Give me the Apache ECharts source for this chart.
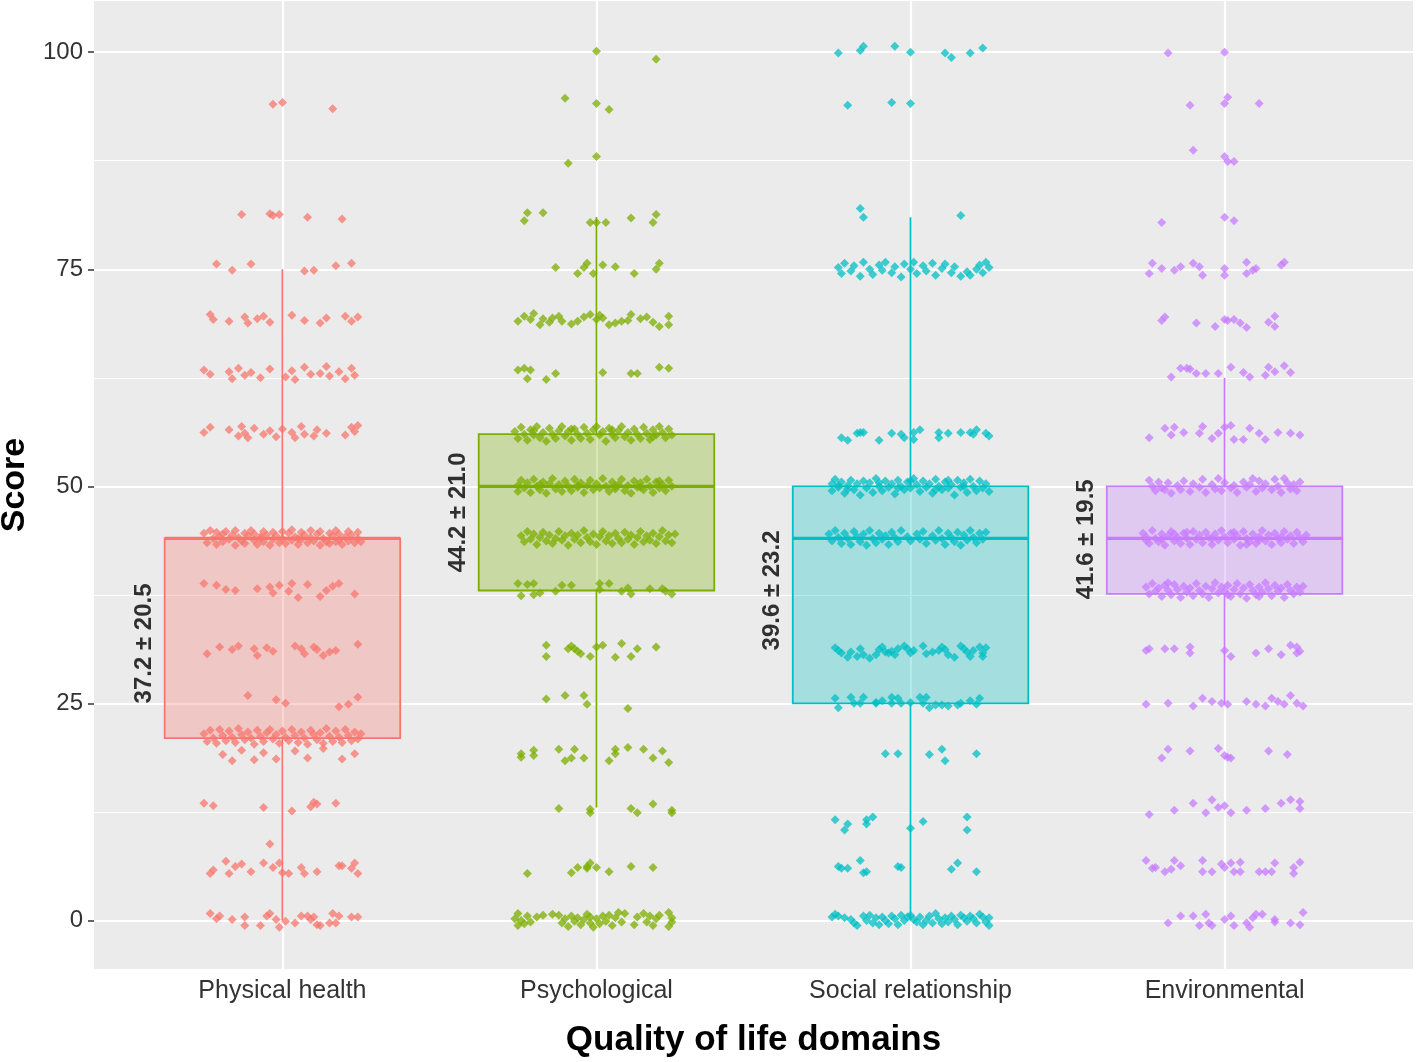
<!DOCTYPE html>
<html><head><meta charset="utf-8">
<script src="https://cdn.jsdelivr.net/npm/echarts@6/dist/echarts.min.js"></script>
<style>html,body{margin:0;padding:0;background:#fff}#c{width:1416px;height:1062px}</style>
</head><body><div id="c"></div>
<script>
const categories = ['Physical health', 'Psychological', 'Social relationship', 'Environmental'];
const boxLow = [0, 13, 0, 25];
const boxQ1 = [21, 38, 25, 37.6];
const boxMedian = [44, 50, 44, 44];
const boxQ3 = [44, 56, 50, 50];
const boxHigh = [75, 81, 81, 62.5];
const meanSdLabels = ['37.2 \u00b1 20.5', '44.2 \u00b1 21.0', '39.6 \u00b1 23.2', '41.6 \u00b1 19.5'];
const yTickValues = [0, 25, 50, 75, 100];
const yMinorValues = [12.5, 37.5, 62.5, 87.5];

// jittered points: [x offset from category centre, score]
const physical = [
[-0.03,94.0],[0.00,94.2],[0.16,93.5],
[-0.13,81.3],[-0.04,81.4],[-0.03,81.2],[-0.01,81.3],[0.08,81.0],[0.19,80.8],
[-0.21,75.6],[-0.16,74.9],[-0.10,75.6],[0.07,74.8],[0.10,74.9],[0.17,75.4],[0.22,75.7],
[-0.23,69.8],[-0.22,69.2],[-0.17,69.0],[-0.12,69.5],[-0.11,68.8],[-0.08,69.3],[-0.06,69.6],[-0.04,68.9],[0.03,69.7],[0.07,69.1],[0.12,68.8],[0.14,69.4],[0.20,69.6],[0.22,69.0],[0.24,69.5],
[-0.25,63.4],[-0.23,62.9],[-0.17,63.2],[-0.16,62.4],[-0.14,63.6],[-0.12,62.8],[-0.10,63.1],[-0.07,62.5],[-0.04,63.5],[0.01,62.6],[0.03,63.3],[0.04,62.3],[0.07,63.7],[0.09,62.9],[0.12,63.0],[0.14,63.8],[0.15,62.7],[0.18,63.2],[0.20,62.4],[0.22,63.6],[0.23,62.8],
[-0.25,56.2],[-0.23,56.8],[-0.17,56.5],[-0.14,55.8],[-0.13,56.9],[-0.12,56.1],[-0.11,55.6],[-0.09,56.7],[-0.06,56.0],[-0.04,56.4],[-0.02,55.7],[0.00,56.6],[0.03,56.2],[0.04,55.6],[0.06,56.9],[0.07,56.0],[0.10,55.8],[0.11,56.5],[0.14,56.1],[0.20,55.9],[0.22,56.8],[0.23,56.3],[0.24,57.0],
[-0.25,44.6],[-0.24,43.5],[-0.23,44.9],[-0.22,44.0],[-0.21,43.3],[-0.21,44.7],[-0.20,44.2],[-0.19,43.6],[-0.18,44.8],[-0.17,43.9],[-0.16,44.4],[-0.15,43.2],[-0.15,44.9],[-0.14,44.1],[-0.13,43.7],[-0.12,44.6],[-0.12,43.4],[-0.11,44.3],[-0.10,44.9],[-0.09,43.8],[-0.09,44.5],[-0.08,43.3],[-0.07,44.2],[-0.06,44.8],[-0.06,43.6],[-0.05,44.4],[-0.04,43.2],[-0.03,44.7],[-0.03,43.9],[-0.02,44.3],[-0.01,43.5],[0.00,44.8],[0.00,44.0],[0.01,43.4],[0.02,44.6],[0.03,43.8],[0.03,45.0],[0.04,44.2],[0.05,43.3],[0.06,44.7],[0.06,43.9],[0.07,44.4],[0.08,43.5],[0.09,44.9],[0.09,44.1],[0.10,43.7],[0.11,44.5],[0.12,43.2],[0.12,44.8],[0.13,44.0],[0.14,43.6],[0.15,44.6],[0.15,43.4],[0.16,44.3],[0.17,44.9],[0.18,43.8],[0.18,44.5],[0.19,43.3],[0.20,44.2],[0.21,44.8],[0.21,43.7],[0.22,44.4],[0.23,43.5],[0.24,44.7],[0.24,44.0],[0.25,43.6],[-0.19,44.5],[-0.07,44.0],[0.05,44.0],[0.17,43.6],
[-0.25,38.8],[-0.21,38.6],[-0.18,38.1],[-0.15,38.0],[-0.08,38.2],[-0.04,38.4],[-0.03,37.7],[-0.01,38.6],[0.02,37.9],[0.03,38.8],[0.05,37.2],[0.08,38.7],[0.12,37.3],[0.14,38.0],[0.16,38.5],[0.18,38.8],[0.23,37.6],
[-0.24,30.7],[-0.20,31.5],[-0.16,31.2],[-0.14,31.6],[-0.09,31.3],[-0.08,30.5],[-0.05,31.4],[-0.03,31.0],[0.04,31.6],[0.06,31.3],[0.07,30.7],[0.10,31.5],[0.11,31.2],[0.13,30.5],[0.15,30.9],[0.17,31.1],[0.24,31.8],
[-0.11,25.9],[-0.02,25.4],[0.01,25.0],[0.18,24.6],[0.21,24.9],[0.24,25.7],
[-0.25,21.5],[-0.24,20.6],[-0.23,21.9],[-0.22,21.0],[-0.21,20.4],[-0.20,22.0],[-0.19,21.3],[-0.18,20.7],[-0.17,21.8],[-0.16,21.1],[-0.15,20.5],[-0.14,22.1],[-0.13,21.4],[-0.12,20.8],[-0.11,21.7],[-0.10,21.0],[-0.09,20.3],[-0.08,21.9],[-0.07,21.2],[-0.06,20.6],[-0.05,21.6],[-0.04,22.0],[-0.03,20.9],[-0.02,21.4],[-0.01,20.4],[0.00,21.8],[0.01,21.1],[0.02,20.7],[0.03,22.0],[0.04,21.3],[0.05,20.5],[0.06,21.7],[0.07,21.0],[0.08,20.3],[0.09,21.9],[0.10,21.4],[0.11,20.8],[0.12,21.6],[0.13,20.4],[0.14,22.1],[0.15,21.2],[0.16,20.6],[0.17,21.8],[0.18,21.1],[0.19,20.5],[0.20,22.0],[0.21,21.3],[0.22,20.7],[0.23,21.7],[0.24,20.9],[0.25,21.5],
[-0.19,19.1],[-0.16,18.4],[-0.13,19.6],[-0.09,18.5],[-0.06,19.3],[-0.02,18.6],[0.04,19.5],[0.08,18.7],[0.13,19.8],[0.19,18.6],[0.23,19.2],
[-0.25,13.5],[-0.22,13.2],[-0.06,13.0],[0.03,12.6],[0.09,13.1],[0.10,13.6],[0.11,13.4],[0.17,13.5],
[-0.23,5.4],[-0.22,5.8],[-0.18,6.8],[-0.17,5.4],[-0.15,6.2],[-0.13,6.5],[-0.10,5.6],[-0.06,6.6],[-0.04,8.8],[-0.03,6.1],[-0.01,6.6],[0.00,5.5],[0.02,5.4],[0.06,6.1],[0.07,5.4],[0.11,5.6],[0.18,6.3],[0.19,6.3],[0.22,6.0],[0.23,6.6],[0.24,5.4],
[-0.23,0.8],[-0.21,0.2],[-0.20,0.5],[-0.16,0.1],[-0.12,0.4],[-0.12,-0.6],[-0.07,-0.6],[-0.05,0.5],[-0.04,0.8],[-0.02,0.1],[-0.01,-0.8],[0.01,-0.1],[0.04,-0.3],[0.06,0.5],[0.08,0.5],[0.09,0.1],[0.10,0.4],[0.11,-0.5],[0.12,-0.6],[0.15,-0.3],[0.16,0.8],[0.17,-0.3],[0.18,0.5],[0.22,0.4],[0.24,0.4]
];

const psychological = [
[0.00,100.1],[0.19,99.2],
[-0.10,94.7],[0.00,94.1],[0.04,93.4],
[0.00,88.0],[-0.09,87.2],
[-0.22,81.5],[-0.23,80.6],[-0.17,81.5],[-0.02,80.4],[0.00,80.4],[0.03,80.4],[0.11,80.9],[0.19,81.3],[0.18,80.4],
[-0.13,75.2],[-0.03,75.7],[-0.04,75.2],[-0.06,74.5],[-0.01,74.5],[0.02,75.5],[0.06,75.3],[0.12,74.5],[0.20,75.7],[0.19,75.0],
[-0.25,69.0],[-0.23,69.6],[-0.20,69.9],[-0.18,68.6],[-0.17,69.3],[-0.15,68.9],[-0.14,69.4],[-0.11,69.0],[-0.06,69.0],[-0.04,69.5],[-0.02,69.8],[0.00,69.2],[0.02,69.4],[0.04,68.6],[0.06,68.8],[0.08,69.0],[0.11,69.8],[0.16,69.5],[0.18,68.9],[0.20,68.4],[0.23,69.6],[0.23,68.6],[-0.21,69.2],[-0.12,69.6],[-0.08,68.7],[0.01,69.7],[0.10,69.1],[0.14,69.3],
[-0.25,63.4],[-0.23,63.6],[-0.21,63.4],[-0.22,62.4],[-0.16,62.3],[-0.13,63.0],[0.02,63.1],[0.11,63.0],[0.13,63.0],[0.20,63.7],[0.23,63.6],
[-0.26,56.3],[-0.25,55.5],[-0.24,56.8],[-0.23,56.0],[-0.22,55.3],[-0.21,56.5],[-0.20,55.9],[-0.19,56.9],[-0.18,55.6],[-0.17,56.2],[-0.16,55.2],[-0.15,56.7],[-0.14,56.0],[-0.13,55.5],[-0.12,56.4],[-0.11,56.9],[-0.10,55.8],[-0.09,56.3],[-0.08,55.3],[-0.07,56.6],[-0.06,56.0],[-0.05,55.5],[-0.04,56.8],[-0.03,56.1],[-0.02,55.4],[-0.01,56.5],[0.00,56.9],[0.01,55.9],[0.02,56.3],[0.03,55.2],[0.04,56.7],[0.05,56.0],[0.06,55.6],[0.07,56.4],[0.08,56.9],[0.09,55.7],[0.10,56.2],[0.11,55.3],[0.12,56.6],[0.13,56.0],[0.14,55.5],[0.15,56.8],[0.16,56.1],[0.17,55.4],[0.18,56.5],[0.19,55.9],[0.20,56.9],[0.21,56.2],[0.22,55.6],[0.23,56.6],[0.24,55.9],[-0.20,56.4],[-0.08,56.6],[0.05,56.5],[0.18,55.7],
[-0.25,50.1],[-0.25,49.4],[-0.24,50.7],[-0.23,49.8],[-0.22,50.4],[-0.21,49.3],[-0.20,50.8],[-0.19,50.0],[-0.18,49.6],[-0.17,50.5],[-0.16,49.2],[-0.15,50.3],[-0.14,50.9],[-0.13,49.7],[-0.12,50.2],[-0.11,49.4],[-0.10,50.6],[-0.09,50.0],[-0.08,49.5],[-0.07,50.8],[-0.06,49.9],[-0.05,50.4],[-0.04,49.3],[-0.03,50.1],[-0.02,50.7],[-0.01,49.6],[0.00,50.3],[0.01,49.8],[0.02,50.9],[0.03,50.0],[0.04,49.4],[0.05,50.5],[0.06,49.7],[0.07,50.2],[0.08,50.8],[0.09,49.5],[0.10,50.1],[0.11,49.2],[0.12,50.6],[0.13,49.9],[0.14,50.4],[0.15,49.6],[0.16,50.8],[0.17,50.0],[0.18,49.3],[0.19,50.5],[0.20,49.8],[0.21,50.2],[0.22,49.5],[0.23,50.7],[0.24,50.0],[-0.18,50.2],[-0.06,50.1],[0.06,50.0],[0.14,49.9],[0.20,50.6],
[-0.24,44.3],[-0.23,43.6],[-0.22,44.8],[-0.21,43.9],[-0.20,44.5],[-0.19,43.3],[-0.18,44.1],[-0.17,44.7],[-0.16,43.7],[-0.15,44.4],[-0.14,43.4],[-0.13,44.0],[-0.12,44.8],[-0.11,43.8],[-0.10,44.3],[-0.09,43.2],[-0.08,44.6],[-0.07,43.9],[-0.06,44.4],[-0.05,43.5],[-0.04,44.9],[-0.03,44.1],[-0.02,43.6],[-0.01,44.5],[0.00,43.3],[0.01,44.2],[0.02,44.8],[0.03,43.7],[0.04,44.3],[0.05,43.4],[0.06,44.6],[0.07,44.0],[0.08,43.5],[0.09,44.7],[0.10,43.9],[0.11,44.4],[0.12,43.3],[0.13,44.1],[0.14,44.8],[0.15,43.6],[0.16,44.3],[0.17,43.8],[0.18,44.6],[0.19,43.4],[0.20,44.2],[0.21,44.9],[0.22,43.7],[0.23,44.4],[0.24,43.5],[0.25,44.5],
[-0.25,38.8],[-0.24,37.4],[-0.22,38.7],[-0.20,38.8],[-0.20,37.5],[-0.18,37.7],[-0.13,37.9],[-0.11,38.6],[-0.08,38.6],[0.01,38.8],[0.01,38.1],[0.04,38.8],[0.08,37.9],[0.10,38.3],[0.11,37.6],[0.17,38.2],[0.21,38.2],[0.22,37.9],[0.24,37.6],
[-0.16,31.7],[-0.16,30.4],[-0.09,31.3],[-0.08,31.6],[-0.07,31.3],[-0.06,31.0],[-0.05,30.7],[-0.02,30.4],[0.00,31.5],[0.02,31.7],[0.08,31.9],[0.06,30.3],[0.11,30.4],[0.13,31.3],[0.19,31.5],
[-0.16,25.5],[-0.10,25.9],[-0.04,25.9],[-0.03,24.9],[0.10,24.4],
[-0.24,19.2],[-0.24,18.8],[-0.20,19.6],[-0.20,19.0],[-0.12,19.7],[-0.07,19.7],[-0.10,18.4],[-0.08,18.7],[-0.04,18.7],[0.04,18.4],[0.06,19.7],[0.06,19.2],[0.10,19.9],[0.15,19.7],[0.18,18.7],[0.21,19.5],[0.23,18.2],
[-0.12,12.9],[-0.02,12.4],[-0.02,12.8],[0.11,12.9],[0.13,12.4],[0.18,13.4],[0.24,12.7],[0.24,12.4],
[-0.22,5.4],[-0.08,5.5],[-0.06,6.1],[-0.03,6.2],[-0.02,6.6],[-0.03,6.0],[0.00,6.1],[0.04,5.6],[0.11,6.2],[0.18,6.1],
[-0.26,0.2],[-0.25,-0.6],[-0.25,0.8],[-0.24,0.0],[-0.23,-0.4],[-0.22,0.5],[-0.21,-0.2],[-0.19,0.4],[-0.17,0.6],[-0.14,0.7],[-0.12,0.6],[-0.11,-0.3],[-0.10,0.2],[-0.09,-0.7],[-0.08,0.5],[-0.07,-0.1],[-0.06,0.3],[-0.05,-0.5],[-0.04,0.1],[-0.03,0.7],[-0.02,-0.3],[-0.02,0.4],[-0.01,-0.8],[0.00,0.2],[0.01,-0.4],[0.02,0.5],[0.03,-0.1],[0.04,0.6],[0.05,-0.6],[0.06,0.3],[0.07,0.9],[0.08,-0.2],[0.09,0.8],[0.12,-0.5],[0.13,0.4],[0.15,0.8],[0.16,-0.2],[0.17,0.5],[0.18,-0.6],[0.19,0.2],[0.20,0.6],[0.23,0.9],[0.23,-0.7],[0.24,0.3],[0.24,-0.2]
];

const social = [
[-0.23,99.9],[-0.16,100.2],[-0.15,100.7],[-0.05,100.7],[0.00,100.0],[0.11,99.9],[0.13,99.4],[0.19,99.9],[0.23,100.5],
[-0.20,93.9],[-0.06,94.2],[0.00,94.1],
[-0.16,82.0],[-0.15,81.0],[0.16,81.2],
[-0.23,75.2],[-0.22,74.5],[-0.21,75.7],[-0.19,74.8],[-0.18,75.4],[-0.16,74.2],[-0.15,75.8],[-0.13,75.0],[-0.12,74.4],[-0.10,75.5],[-0.09,74.9],[-0.08,75.8],[-0.06,74.6],[-0.05,75.3],[-0.03,74.1],[-0.02,75.6],[0.00,75.0],[0.01,75.8],[0.02,74.5],[0.04,75.4],[0.05,74.8],[0.07,75.7],[0.08,74.3],[0.10,75.1],[0.11,75.6],[0.13,74.6],[0.14,75.3],[0.16,74.2],[0.18,74.7],[0.19,74.3],[0.21,75.0],[0.22,75.5],[0.23,74.6],[0.24,75.8],[0.25,75.2],
[-0.22,55.6],[-0.20,55.3],[-0.17,56.1],[-0.16,56.2],[-0.15,56.2],[-0.10,55.3],[-0.06,56.1],[-0.03,56.0],[-0.02,55.6],[0.01,56.2],[0.03,56.5],[0.09,56.2],[0.09,55.6],[0.12,56.1],[0.16,56.2],[0.19,56.2],[0.20,56.0],[0.21,56.5],[0.24,56.1],[0.25,55.8],[0.01,55.4],
[-0.25,50.3],[-0.25,49.5],[-0.24,50.8],[-0.23,49.9],[-0.22,50.5],[-0.21,49.2],[-0.20,50.1],[-0.19,50.7],[-0.18,49.6],[-0.17,50.3],[-0.16,49.0],[-0.15,50.6],[-0.14,49.8],[-0.13,50.4],[-0.12,49.3],[-0.11,50.9],[-0.10,50.0],[-0.09,49.5],[-0.08,50.6],[-0.07,49.9],[-0.06,50.3],[-0.05,49.1],[-0.04,50.7],[-0.03,50.0],[-0.02,49.6],[-0.01,50.5],[0.00,49.8],[0.01,50.9],[0.02,50.2],[0.03,49.4],[0.04,50.6],[0.05,49.9],[0.06,50.3],[0.07,49.2],[0.08,50.8],[0.09,50.0],[0.10,49.6],[0.11,50.5],[0.12,49.8],[0.13,50.2],[0.14,49.0],[0.15,50.7],[0.16,49.9],[0.17,50.4],[0.18,49.3],[0.19,50.8],[0.20,50.0],[0.21,49.5],[0.22,50.6],[0.23,49.8],[0.24,50.3],[0.25,49.4],[-0.20,49.7],[-0.10,50.4],[0.00,50.6],[0.08,49.6],[0.17,50.0],[-0.23,50.1],[0.12,50.7],[-0.04,49.8],
[-0.26,44.5],[-0.25,43.7],[-0.24,44.9],[-0.23,44.1],[-0.22,43.4],[-0.21,44.6],[-0.20,44.0],[-0.19,43.3],[-0.18,44.8],[-0.17,44.2],[-0.16,43.6],[-0.15,44.5],[-0.14,43.2],[-0.13,44.9],[-0.12,44.0],[-0.11,43.5],[-0.10,44.6],[-0.09,43.9],[-0.08,44.3],[-0.07,43.3],[-0.06,44.7],[-0.05,44.1],[-0.04,43.6],[-0.03,44.9],[-0.01,44.2],[0.00,43.7],[0.02,44.5],[0.03,43.9],[0.04,44.8],[0.05,43.4],[0.07,44.3],[0.08,43.8],[0.09,44.9],[0.10,44.0],[0.11,43.3],[0.12,44.6],[0.13,44.1],[0.14,43.6],[0.15,44.7],[0.16,43.2],[0.17,44.4],[0.18,43.8],[0.19,44.9],[0.20,44.1],[0.21,43.5],[0.22,44.6],[0.23,43.9],[0.24,44.7],
[-0.24,31.4],[-0.23,31.1],[-0.22,30.8],[-0.20,30.3],[-0.19,30.9],[-0.17,30.4],[-0.16,31.3],[-0.15,30.6],[-0.13,30.2],[-0.11,30.6],[-0.10,31.2],[-0.09,31.5],[-0.08,30.9],[-0.07,30.8],[-0.06,31.0],[-0.05,30.6],[-0.04,31.3],[-0.02,31.6],[-0.01,31.3],[0.00,30.8],[0.01,31.1],[0.04,31.6],[0.05,30.7],[0.07,30.9],[0.09,31.1],[0.10,31.5],[0.11,31.2],[0.12,30.6],[0.14,30.3],[0.16,31.6],[0.17,31.3],[0.18,30.9],[0.19,30.4],[0.20,31.1],[0.22,31.5],[0.23,30.8],[0.24,31.4],[0.23,30.4],
[-0.24,25.6],[-0.23,24.5],[-0.19,25.7],[-0.18,25.0],[-0.15,25.7],[-0.16,25.0],[-0.11,25.1],[-0.11,25.0],[-0.09,25.3],[-0.06,25.7],[-0.06,25.0],[-0.04,25.6],[-0.03,25.0],[0.00,25.1],[0.03,25.7],[0.04,25.0],[0.05,25.7],[0.06,24.5],[0.08,24.8],[0.10,24.8],[0.12,24.7],[0.15,24.8],[0.16,25.0],[0.19,25.3],[0.21,24.9],[0.22,25.6],
[-0.08,19.2],[-0.04,19.2],[0.06,19.1],[0.10,19.7],[0.11,18.4],[0.21,19.2],
[-0.24,11.6],[-0.21,10.4],[-0.20,11.1],[-0.14,11.1],[-0.14,11.6],[-0.12,11.9],[0.00,10.6],[0.04,11.4],[0.18,11.9],[0.18,10.4],
[-0.23,6.2],[-0.22,6.0],[-0.20,6.0],[-0.16,6.9],[-0.15,5.5],[-0.14,5.6],[-0.04,6.2],[-0.03,6.1],[0.13,5.9],[0.15,6.6],[0.21,5.6],
[-0.25,0.4],[-0.24,0.7],[-0.23,0.5],[-0.21,0.3],[-0.19,0.1],[-0.18,-0.3],[-0.17,-0.6],[-0.15,0.5],[-0.14,0.0],[-0.13,0.6],[-0.12,-0.3],[-0.11,0.3],[-0.10,-0.5],[-0.09,0.4],[-0.08,0.0],[-0.07,-0.4],[-0.06,0.5],[-0.05,0.2],[-0.04,-0.5],[-0.03,0.6],[-0.02,0.0],[-0.01,0.4],[0.00,0.6],[0.01,0.1],[0.02,-0.2],[0.03,0.4],[0.04,-0.5],[0.05,0.0],[0.06,0.5],[0.07,-0.3],[0.08,0.8],[0.09,0.2],[0.10,-0.4],[0.11,0.3],[0.12,-0.2],[0.13,0.5],[0.14,0.1],[0.15,-0.5],[0.16,0.6],[0.17,0.3],[0.18,-0.1],[0.19,0.5],[0.20,0.2],[0.21,-0.3],[0.22,0.7],[0.23,0.4],[0.24,-0.2],[0.25,-0.6],[0.25,0.3]
];

const environmental = [
[-0.18,99.9],[0.00,100.0],
[-0.11,93.9],[0.00,94.1],[0.01,94.8],[0.11,94.1],
[-0.10,88.7],[0.00,88.0],[0.01,87.4],[0.03,87.4],
[-0.20,80.4],[0.00,81.0],[0.03,80.6],
[-0.23,75.7],[-0.24,74.5],[-0.20,75.1],[-0.16,74.9],[-0.14,75.3],[-0.10,75.7],[-0.08,75.3],[-0.07,74.3],[0.00,75.1],[0.00,74.3],[0.07,75.8],[0.09,74.9],[0.10,75.1],[0.18,75.5],[0.19,75.8],[0.07,74.5],
[-0.19,69.5],[-0.20,69.1],[-0.09,68.8],[-0.03,68.4],[0.00,69.2],[0.03,69.2],[0.05,68.8],[0.07,68.3],[0.14,68.9],[0.16,69.6],[0.16,68.4],[0.01,69.1],
[-0.17,62.6],[-0.14,63.6],[-0.11,63.5],[-0.09,63.0],[-0.06,63.0],[-0.02,63.0],[0.02,63.7],[0.06,63.1],[0.08,62.6],[0.13,62.8],[0.14,63.7],[0.16,63.2],[0.19,63.9],[0.21,63.1],[-0.12,63.6],
[-0.24,55.6],[-0.19,56.7],[-0.17,55.9],[-0.16,56.8],[-0.13,56.2],[-0.08,56.1],[-0.07,56.9],[-0.04,55.5],[-0.02,56.1],[0.00,56.8],[0.02,57.0],[0.03,55.4],[0.06,55.4],[0.08,56.7],[0.11,56.1],[0.13,55.4],[0.17,56.2],[0.21,56.1],[0.24,55.9],
[-0.24,50.7],[-0.23,50.0],[-0.22,49.5],[-0.21,50.5],[-0.20,49.8],[-0.18,50.4],[-0.17,49.2],[-0.15,50.1],[-0.14,49.6],[-0.13,50.6],[-0.11,49.4],[-0.10,50.3],[-0.08,49.9],[-0.07,50.8],[-0.06,49.3],[-0.04,50.2],[-0.03,49.7],[-0.02,50.9],[-0.01,49.5],[0.00,50.4],[0.02,49.8],[0.03,50.1],[0.04,49.3],[0.06,50.5],[0.07,49.9],[0.08,50.2],[0.10,49.4],[0.11,50.6],[0.12,49.8],[0.13,50.3],[0.15,49.6],[0.16,50.8],[0.17,50.0],[0.18,49.3],[0.19,50.9],[0.20,50.4],[0.21,49.7],[0.22,50.2],[0.23,49.5],[0.24,50.5],[-0.19,49.6],[0.09,50.9],
[-0.26,44.6],[-0.25,43.8],[-0.25,44.2],[-0.24,43.4],[-0.23,44.9],[-0.22,44.0],[-0.21,43.6],[-0.20,44.5],[-0.19,43.2],[-0.18,44.3],[-0.17,44.8],[-0.16,43.7],[-0.15,44.1],[-0.14,43.4],[-0.13,44.6],[-0.12,44.0],[-0.11,43.3],[-0.10,44.8],[-0.09,43.9],[-0.08,44.4],[-0.07,43.5],[-0.06,44.7],[-0.05,44.1],[-0.04,43.3],[-0.03,44.5],[-0.02,43.8],[-0.01,44.9],[0.00,44.2],[0.01,43.5],[0.02,44.6],[0.03,43.9],[0.04,44.3],[0.05,43.2],[0.06,44.8],[0.07,44.0],[0.08,43.6],[0.09,44.5],[0.10,43.4],[0.11,44.2],[0.12,44.9],[0.13,43.7],[0.14,44.4],[0.15,43.3],[0.16,44.6],[0.17,44.0],[0.18,43.5],[0.19,44.8],[0.20,43.9],[0.21,44.3],[0.22,43.4],[0.23,44.7],[0.24,44.1],[0.25,43.6],[0.26,44.4],[-0.20,43.9],[-0.12,44.7],[-0.04,44.0],[0.03,44.7],[0.11,43.8],[0.18,44.2],[-0.16,44.5],[0.07,43.3],
[-0.25,38.4],[-0.24,37.6],[-0.23,38.8],[-0.22,37.9],[-0.21,38.3],[-0.20,37.3],[-0.19,38.6],[-0.18,38.0],[-0.17,37.5],[-0.16,38.7],[-0.15,38.1],[-0.14,37.2],[-0.13,38.5],[-0.12,37.8],[-0.11,38.3],[-0.10,37.4],[-0.09,38.8],[-0.08,38.0],[-0.07,37.6],[-0.06,38.5],[-0.05,37.2],[-0.04,38.2],[-0.03,38.9],[-0.02,37.7],[-0.01,38.4],[0.00,37.9],[0.01,38.6],[0.02,37.3],[0.03,38.1],[0.04,38.8],[0.05,37.6],[0.06,38.3],[0.07,37.1],[0.08,38.7],[0.09,38.0],[0.10,37.5],[0.11,38.4],[0.12,37.8],[0.13,38.9],[0.14,38.2],[0.15,37.4],[0.16,38.6],[0.17,37.9],[0.18,38.3],[0.19,37.2],[0.20,38.7],[0.21,38.0],[0.22,37.6],[0.23,38.4],[0.24,37.8],[0.25,38.5],[-0.18,38.9],[0.01,37.5],[0.11,37.3],
[-0.25,31.1],[-0.24,31.3],[-0.19,31.3],[-0.16,31.3],[-0.11,30.8],[-0.11,31.5],[0.00,31.1],[0.02,30.4],[0.10,30.8],[0.14,31.3],[0.18,30.6],[0.21,31.7],[0.23,31.5],[0.24,31.0],[0.23,30.8],
[-0.25,24.9],[-0.18,25.0],[-0.10,24.7],[-0.07,25.6],[-0.04,25.2],[-0.01,25.0],[0.01,24.9],[0.07,25.2],[0.10,24.9],[0.13,24.7],[0.15,25.6],[0.17,25.2],[0.19,24.9],[0.21,25.9],[0.23,25.0],[0.25,24.7],
[-0.20,18.7],[-0.18,19.7],[-0.11,19.5],[-0.02,19.8],[0.00,19.0],[0.01,18.8],[0.02,18.7],[0.14,19.5],[0.20,19.1],
[-0.24,12.2],[-0.16,12.7],[-0.10,13.5],[-0.06,12.4],[-0.04,13.9],[-0.02,13.0],[0.00,13.2],[0.02,12.4],[0.07,12.7],[0.13,12.9],[0.18,13.5],[0.21,13.9],[0.24,13.7],[0.24,12.9],
[-0.25,6.9],[-0.23,6.0],[-0.22,6.1],[-0.19,5.6],[-0.17,5.9],[-0.16,6.9],[-0.14,6.3],[-0.07,6.9],[-0.07,5.6],[-0.04,5.6],[-0.01,6.5],[0.00,6.1],[0.02,6.6],[0.03,5.6],[0.05,6.7],[0.05,5.6],[0.11,5.6],[0.13,5.6],[0.15,5.6],[0.16,6.6],[0.22,6.1],[0.22,5.4],[0.24,6.7],
[-0.18,-0.3],[-0.14,0.5],[-0.10,0.5],[-0.08,-0.6],[-0.06,0.7],[-0.05,-0.3],[-0.04,-0.6],[0.00,0.1],[0.02,0.5],[0.03,-0.6],[0.07,-0.3],[0.08,-0.8],[0.09,0.3],[0.10,0.7],[0.12,0.7],[0.16,0.1],[0.16,-0.2],[0.21,-0.3],[0.24,-0.5],[0.25,0.9]
];

// label anchor (score value at the centre of each rotated mean ± SD text)
const labelCenterY = [31.9, 47.0, 38.0, 43.9];
</script>
<script>
const colors = ['#F8766D', '#7CAE00', '#00BFC4', '#C77CFF'];
const groups = [physical, psychological, social, environmental];
function hexA(hex, a) {
  const n = parseInt(hex.slice(1), 16);
  return 'rgba(' + ((n >> 16) & 255) + ',' + ((n >> 8) & 255) + ',' + (n & 255) + ',' + a + ')';
}
const chart = echarts.init(document.getElementById('c'), null, {renderer: 'canvas'});
const gridLineData = []
  .concat(yTickValues.map(v => ({yAxis: v, lineStyle: {width: 2.2}})))
  .concat(yMinorValues.map(v => ({yAxis: v, lineStyle: {width: 1.1}})))
  .concat(categories.map((c, i) => ({xAxis: i + 1, lineStyle: {width: 2.2}})));

const series = [
  {
    type: 'scatter', data: [], z: 1, silent: true,
    markLine: {
      z: 1, silent: true, symbol: ['none', 'none'], animation: false,
      label: {show: false},
      lineStyle: {color: '#FFFFFF', type: 'solid', opacity: 1},
      emphasis: {disabled: true},
      data: gridLineData
    }
  },
  {
    type: 'custom', z: 2, silent: true,
    data: categories.map((c, i) => [i + 1, boxLow[i], boxQ1[i], boxMedian[i], boxQ3[i], boxHigh[i], i]),
    encode: {x: 0, y: [1, 2, 3, 4, 5]},
    renderItem: function (params, api) {
      const x = api.value(0), lo = api.value(1), q1 = api.value(2), md = api.value(3), q3 = api.value(4), hi = api.value(5);
      const col = colors[api.value(6)];
      const hw = 0.375;
      const tl = api.coord([x - hw, q3]), br = api.coord([x + hw, q1]);
      const mL = api.coord([x - hw, md]), mR = api.coord([x + hw, md]);
      const pHi = api.coord([x, hi]), pQ3 = api.coord([x, q3]), pQ1 = api.coord([x, q1]), pLo = api.coord([x, lo]);
      return {
        type: 'group', children: [
          {type: 'line', shape: {x1: pHi[0], y1: pHi[1], x2: pQ3[0], y2: pQ3[1]}, style: {stroke: col, lineWidth: 1.8}},
          {type: 'line', shape: {x1: pQ1[0], y1: pQ1[1], x2: pLo[0], y2: pLo[1]}, style: {stroke: col, lineWidth: 1.8}},
          {type: 'rect', shape: {x: tl[0], y: tl[1], width: br[0] - tl[0], height: br[1] - tl[1]}, style: {fill: hexA(col, 0.3), stroke: col, lineWidth: 1.8}},
          {type: 'line', shape: {x1: mL[0], y1: mL[1], x2: mR[0], y2: mR[1]}, style: {stroke: col, lineWidth: 3.2}}
        ]
      };
    }
  }
];
groups.forEach((g, i) => {
  series.push({
    type: 'scatter', z: 3, silent: true,
    symbol: 'diamond', symbolSize: 9,
    itemStyle: {color: colors[i], opacity: 0.75},
    data: g.map(p => [i + 1 + p[0], p[1]])
  });
});
series.push({
  type: 'scatter', z: 4, silent: true, symbolSize: 0,
  data: categories.map((c, i) => [i + 1 - 0.44, labelCenterY[i], meanSdLabels[i]]),
  label: {
    show: true, position: 'inside', rotate: 90, formatter: p => p.value[2],
    fontFamily: 'Liberation Sans, Arial, sans-serif', fontWeight: 'bold', fontSize: 24, color: '#000',
    align: 'center', verticalAlign: 'middle'
  },
  labelLayout: {hideOverlap: false}
});

chart.setOption({
  animation: false,
  backgroundColor: '#FFFFFF',
  grid: {left: 94, right: 3, top: 1, bottom: 93, show: true, backgroundColor: '#EBEBEB', borderWidth: 0, containLabel: false, outerBoundsMode: 'none'},
  xAxis: {
    type: 'value', min: 0.4, max: 4.6,
    name: 'Quality of life domains', nameLocation: 'middle', nameGap: 54,
    nameTextStyle: {fontFamily: 'Liberation Sans, Arial, sans-serif', fontWeight: 'bold', fontSize: 35, color: '#000'},
    axisLine: {show: false},
    splitLine: {show: false},
    axisTick: {show: true, customValues: [1, 2, 3, 4], length: 6, lineStyle: {color: '#333', width: 1.5}},
    axisLabel: {
      customValues: [1, 2, 3, 4], margin: 10,
      formatter: v => categories[Math.round(v) - 1] || '',
      fontFamily: 'Liberation Sans, Arial, sans-serif', fontSize: 25, color: '#333'
    }
  },
  yAxis: {
    type: 'value', min: -5.6, max: 105.9,
    name: 'Score', nameLocation: 'middle', nameGap: 53, nameRotate: 90,
    nameTextStyle: {fontFamily: 'Liberation Sans, Arial, sans-serif', fontWeight: 'bold', fontSize: 34, color: '#000'},
    axisLine: {show: false},
    splitLine: {show: false},
    axisTick: {show: true, customValues: yTickValues, length: 6, lineStyle: {color: '#333', width: 1.5}},
    axisLabel: {
      customValues: yTickValues, margin: 11,
      fontFamily: 'Liberation Sans, Arial, sans-serif', fontSize: 24, color: '#333'
    }
  },
  series: series
});
</script>
</body></html>
